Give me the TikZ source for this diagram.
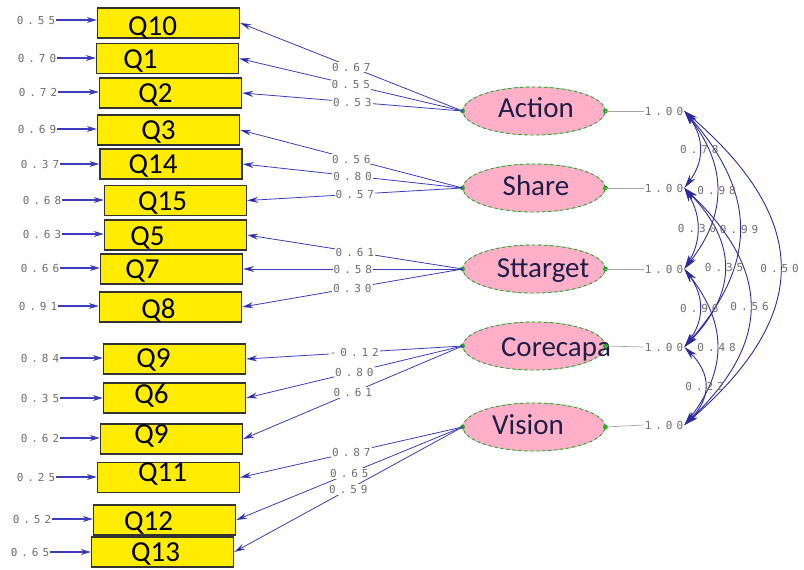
\documentclass[tikz,border=0pt]{standalone}
\usepackage{fontspec}
\usetikzlibrary{arrows.meta,shapes.geometric}
\newfontfamily\qfont{Carlito}
\newfontfamily\numfont{DejaVu Sans Mono}[LetterSpace=36]
\definecolor{qyellow}{RGB}{255,236,0}
\definecolor{fpink}{RGB}{255,176,200}
\definecolor{fgreen}{RGB}{30,170,30}
\definecolor{navy}{RGB}{20,20,150}
\definecolor{lblue}{RGB}{60,60,190}
\definecolor{numgray}{RGB}{110,110,110}
\definecolor{ftext}{RGB}{30,30,70}
% #1 = twice the horizontal shift, #2 = raise
\newcommand{\qt}[3]{\makebox[0pt]{\hspace*{#1pt}\raisebox{#2pt}{#3}}}
\begin{document}
\begin{tikzpicture}[x=1pt,y=-1pt,
  box/.style={draw=black!80,line width=1.4pt,fill=qyellow,minimum width=142pt,
    minimum height=30pt,inner sep=0pt,text height=19pt,text depth=0pt,
    font=\qfont\fontsize{29}{30}\selectfont},
  fact/.style={ellipse,draw=fgreen,dashed,line width=0.9pt,fill=fpink,
    preaction={draw=black!55,solid,line width=0.5pt},
    minimum width=142pt,minimum height=48pt,inner sep=0pt,text height=19pt,
    text depth=0pt,text=ftext,font=\qfont\fontsize{29}{30}\selectfont},
  num/.style={font=\numfont\fontsize{11}{12}\selectfont,text=numgray,inner sep=1pt},
  wnum/.style={num,fill=white},
  err/.style={draw=lblue,line width=1.1pt,-{Stealth[length=10pt,width=6pt,fill=navy]}},
  load/.style={draw=lblue,line width=0.8pt,-{Stealth[length=11pt,width=6pt,fill=navy]}},
  cov/.style={draw=navy!90,line width=0.9pt,{Stealth[length=14pt,width=7pt]}-{Stealth[length=14pt,width=7pt]}},
  dot/.style={fill=fgreen}
]
\useasboundingbox (0,0) rectangle (804,570);

% indicator boxes
\node[box] (q10) at (168.5,23)  {\qt{-32}{-3}{Q10}};
\node[box] (q1)  at (167.5,58.5){\qt{-54}{0}{Q1}};
\node[box] (q2)  at (170.5,93)  {\qt{-30}{0}{Q2}};
\node[box] (q3)  at (168.5,130) {\qt{-20}{0}{Q3}};
\node[box] (q14) at (171,164)   {\qt{-36}{0}{Q14}};
\node[box] (q15) at (175.5,200.5){\qt{-26}{0}{Q15}};
\node[box] (q5)  at (175.5,235) {\qt{-56}{-1}{Q5}};
\node[box] (q7)  at (171.5,269) {\qt{-58}{0}{Q7}};
\node[box] (q8)  at (170.5,307) {\qt{-24}{-2}{Q8}};
\node[box] (q9)  at (174.5,359) {\qt{-42}{1}{Q9}};
\node[box] (q6)  at (174.5,398) {\qt{-46}{4}{Q6}};
\node[box] (q9b) at (171.5,439) {\qt{-40}{5}{Q9}};
\node[box] (q11) at (168.5,477.5){\qt{-12}{6}{Q11}};
\node[box] (q12) at (164.5,520) {\qt{-32}{-1}{Q12}};
\node[box] (q13) at (162.5,552) {\qt{-14}{0}{Q13}};

% error variances
\node[num] (e1)  at (36,20)  {0.55};
\node[num] (e2)  at (37,58)  {0.70};
\node[num] (e3)  at (38,92)  {0.72};
\node[num] (e4)  at (37,129) {0.69};
\node[num] (e5)  at (40,164) {0.37};
\node[num] (e6)  at (42,200) {0.68};
\node[num] (e7)  at (42,234) {0.63};
\node[num] (e8)  at (40,268) {0.66};
\node[num] (e9)  at (38,306) {0.91};
\node[num] (e10) at (40,358) {0.84};
\node[num] (e11) at (40,398) {0.35};
\node[num] (e12) at (40,438) {0.62};
\node[num] (e13) at (36,477) {0.25};
\node[num] (e14) at (32,519) {0.52};
\node[num] (e15) at (30,552) {0.65};
\draw[err] (e1)  -- (e1 -| q10.west);
\draw[err] (e2)  -- (e2 -| q1.west);
\draw[err] (e3)  -- (e3 -| q2.west);
\draw[err] (e4)  -- (e4 -| q3.west);
\draw[err] (e5)  -- (e5 -| q14.west);
\draw[err] (e6)  -- (e6 -| q15.west);
\draw[err] (e7)  -- (e7 -| q5.west);
\draw[err] (e8)  -- (e8 -| q7.west);
\draw[err] (e9)  -- (e9 -| q8.west);
\draw[err] (e10) -- (e10 -| q9.west);
\draw[err] (e11) -- (e11 -| q6.west);
\draw[err] (e12) -- (e12 -| q9b.west);
\draw[err] (e13) -- (e13 -| q11.west);
\draw[err] (e14) -- (e14 -| q12.west);
\draw[err] (e15) -- (e15 -| q13.west);

% factors
\node[fact] (act) at (534,111) {\qt{4}{3}{Action}};
\node[fact] (sha) at (534,188) {\qt{4}{2}{Share}};
\node[fact] (stt) at (534,269) {\qt{18}{1}{Sttarget}};
\node[fact] (cor) at (534,346) {\qt{44}{-1}{Corecapa}};
\node[fact] (vis) at (534,427) {\qt{-12}{2}{Vision}};
\foreach \f in {act,sha,stt,cor,vis}{
  \fill[dot] (\f.west) circle (2.4pt);
  \fill[dot] (\f.east) circle (2.4pt);
}

% loadings
\draw[load] (act.west) -- node[wnum]{0.67} (q10.east);
\draw[load] (act.west) -- node[wnum]{0.55} (q1.east);
\draw[load] (act.west) -- node[wnum]{0.53} (q2.east);
\draw[load] (sha.west) -- node[wnum]{0.56} (q3.east);
\draw[load] (sha.west) -- node[wnum]{0.80} (q14.east);
\draw[load] (sha.west) -- node[wnum]{0.57} (q15.east);
\draw[load] (stt.west) -- node[wnum]{0.61} (q5.east);
\draw[load] (stt.west) -- node[wnum]{0.58} (q7.east);
\draw[load] (stt.west) -- node[wnum]{0.30} (q8.east);
\draw[load] (cor.west) -- node[wnum]{-0.12} (q9.east);
\draw[load] (cor.west) -- node[wnum]{0.80} (q6.east);
\draw[load] (cor.west) -- node[wnum]{0.61} (q9b.east);
\draw[load] (vis.west) -- node[wnum]{0.87} (q11.east);
\draw[load] (vis.west) -- node[wnum]{0.65} (q12.east);
\draw[load] (vis.west) -- node[wnum]{0.59} (q13.east);

% factor variances
\node[num] (v1) at (664,111) {1.00};
\node[num] (v2) at (664,188) {1.00};
\node[num] (v3) at (664,269) {1.00};
\node[num] (v4) at (664,347) {1.00};
\node[num] (v5) at (664,425) {1.00};
\draw[black!35,line width=0.7pt] (act.east) -- (v1.west);
\draw[black!35,line width=0.7pt] (sha.east) -- (v2.west);
\draw[black!35,line width=0.7pt] (stt.east) -- (v3.west);
\draw[black!35,line width=0.7pt] (cor.east) -- (v4.west);
\draw[black!35,line width=0.7pt] (vis.east) -- (v5.west);

% covariances
\draw[cov] (v1.east) .. controls +(127,110) and +(127,-110) .. (v5.east) node[num,pos=0.5]{0.50};
\draw[cov] (v1.east) .. controls +(73,83) and +(73,-83) .. (v4.east) node[num,pos=0.5]{0.99};
\draw[cov] (v2.east) .. controls +(87,83) and +(87,-83) .. (v5.east) node[num,pos=0.5]{0.56};
\draw[cov] (v1.east) .. controls +(43,55) and +(43,-55) .. (v3.east) node[num,pos=0.5]{0.98};
\draw[cov] (v2.east) .. controls +(53,55) and +(53,-55) .. (v4.east) node[num,pos=0.5]{0.35};
\draw[cov] (v3.east) .. controls +(43,55) and +(43,-55) .. (v5.east) node[num,pos=0.5]{0.48};
\draw[cov] (v1.east) .. controls +(20,27) and +(20,-27) .. (v2.east) node[num,pos=0.5]{0.78};
\draw[cov] (v2.east) .. controls +(17,28) and +(17,-28) .. (v3.east) node[num,pos=0.5]{0.30};
\draw[cov] (v3.east) .. controls +(20,27) and +(20,-27) .. (v4.east) node[num,pos=0.5]{0.96};
\draw[cov] (v4.east) .. controls +(27,27) and +(27,-27) .. (v5.east) node[num,pos=0.5]{0.22};
\end{tikzpicture}
\end{document}
